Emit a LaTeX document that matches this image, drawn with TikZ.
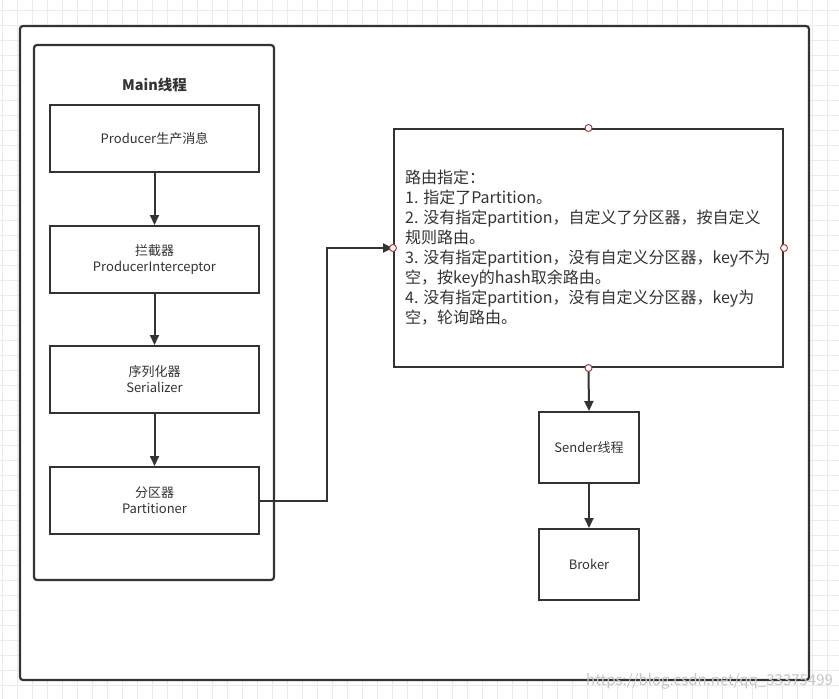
\documentclass[tikz,border=0pt]{standalone}
\usepackage{fontspec}
\setmainfont{Noto Sans CJK SC}
\usetikzlibrary{arrows.meta,calc}
\definecolor{ink}{HTML}{333333}
\definecolor{gridc}{HTML}{EBEBEB}
\definecolor{portc}{HTML}{B03A3A}
\begin{document}
\begin{tikzpicture}[x=1pt,y=-1pt,
  frame/.style={draw=ink,line width=2.2pt,rounded corners=3pt},
  boxst/.style={draw=ink,line width=2pt,fill=white,minimum width=209pt,minimum height=67pt,inner sep=0pt,
    align=center,text=ink,font=\fontsize{13}{16}\selectfont},
  sbox/.style={boxst,minimum width=100pt,minimum height=71pt},
  arr/.style={draw=ink,line width=2pt,-{Triangle[length=10pt,width=9pt]}},
  port/.style={circle,draw=portc,fill=white,line width=1pt,minimum size=7pt,inner sep=0pt}]
\useasboundingbox (0,0) rectangle (839,699);
\fill[white] (0,0) rectangle (839,699);
% grid
\foreach \i in {0,...,55} {\draw[gridc,line width=1pt] ({2+15*\i},0) -- ({2+15*\i},699);}
\foreach \j in {0,...,46} {\draw[gridc,line width=1pt] (0,{10+15*\j}) -- (839,{10+15*\j});}
% outer frame
\draw[frame,fill=white] (20,26) rectangle (809,680);
% main thread box
\draw[frame] (34,45) rectangle (274,580);
\node[text=ink,font=\fontsize{14.5}{16}\selectfont\bfseries] (mt) at (154.5,85) {Main线程};
% boxes
\node[boxst] (p1) at (154.5,138.5) {Producer生产消息};
\node[boxst] (p2) at (154.5,259.5) {拦截器\\ProducerInterceptor};
\node[boxst] (p3) at (154.5,379.5) {序列化器\\Serializer};
\node[boxst] (p4) at (154.5,500.5) {分区器\\Partitioner};
\draw[arr] (p1.south) -- (p2.north);
\draw[arr] (p2.south) -- (p3.north);
\draw[arr] (p3.south) -- (p4.north);
% routing box
\node[draw=ink,line width=2pt,fill=white,minimum width=389pt,minimum height=238pt,inner sep=0pt] (big) at (588.5,248) {};
\node[anchor=west,inner sep=0pt,align=left,text=ink,font=\fontsize{16}{20}\selectfont] (rt) at (405,248) {路由指定：\\
1. 指定了Partition。\\
2. 没有指定partition，自定义了分区器，按自定义\\
规则路由。\\
3. 没有指定partition，没有自定义分区器，key不为\\
空，按key的hash取余路由。\\
4. 没有指定partition，没有自定义分区器，key为\\
空，轮询路由。};
\coordinate (bend) at (327,0);
\draw[arr] (p4.east) -- (p4.east -| bend) |- (big.west);
% sender / broker
\node[sbox] (snd) at (589,447.5) {Sender线程};
\node[sbox] (brk) at (589,564.5) {Broker};
\draw[arr] (big.south) -- (snd.north);
\draw[arr] (snd.south) -- (brk.north);
% ports
\node[port] (pt) at (big.north) {};
\node[port] (pl) at (big.west) {};
\node[port] (pr) at (big.east) {};
\node[port] (pb) at (big.south) {};
% watermark
\node[anchor=west,inner sep=0pt,text=black!22,font=\fontsize{15}{17}\selectfont] (wm) at (586,681) {https://blog.csdn.net/qq\_33375499};
\end{tikzpicture}
\end{document}
